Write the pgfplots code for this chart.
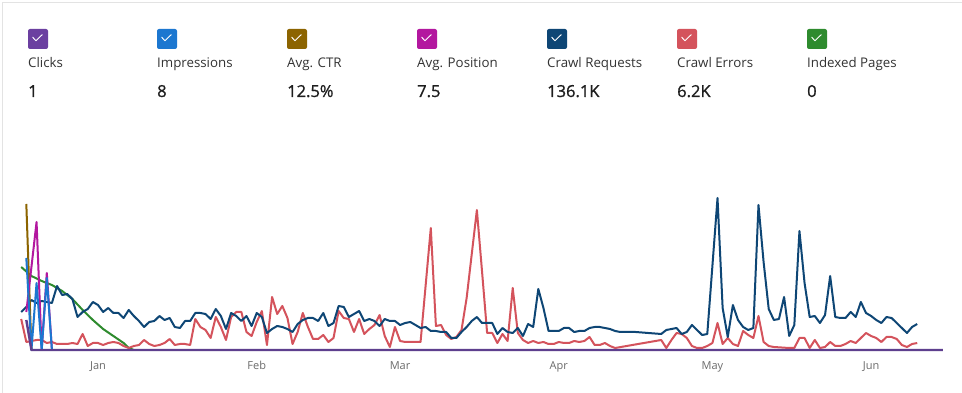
\documentclass[border=0pt]{standalone}
\usepackage{pgfplots}
\pgfplotsset{compat=1.18}
\usepackage{fontspec}
\setmainfont{Open Sans}
\newfontfamily\valfont{Open Sans}[FakeBold=1.0]
\definecolor{cClicks}{HTML}{6B3FA0}
\definecolor{cBase}{HTML}{5E3F8E}
\definecolor{cImpr}{HTML}{1C77D0}
\definecolor{cCTR}{HTML}{8C6400}
\definecolor{cPos}{HTML}{B3179F}
\definecolor{cReq}{HTML}{0E4675}
\definecolor{cErr}{HTML}{D4535C}
\definecolor{cIdx}{HTML}{2E8B2E}
\definecolor{cLab}{HTML}{333333}
\definecolor{cVal}{HTML}{1E1E1E}
\definecolor{cTick}{HTML}{6B6B6B}
\definecolor{cFrame}{HTML}{E3E3E3}

\pgfplotstableread{
d h
-15 38
-14 43
-13 50
-12 47
-11 49
-10 48
-9 47
-8 64
-7 55
-6 56
-5 51
-4 33
-3 38
-2 41
-1 48
0 45
1 38
2 42
3 37
4 37
5 32
6 40
7 34
8 29
9 23
10 28
11 29
12 34
13 30
14 32
15 23
16 22
17 29
18 29
19 37
20 37
21 36
22 31
23 41
24 34
25 21
26 37
27 34
28 29
29 34
30 24
31 37
32 33
33 17
34 21
35 24
36 23
37 21
38 18
39 26
40 30
41 32
42 32
43 29
44 37
45 24
46 27
47 44
48 43
49 33
50 36
51 39
52 29
53 31
54 29
55 24
56 31
57 29
58 29
59 25
60 27
61 28
62 25
63 22
64 23
65 19
66 19
67 18
68 18
69 12
70 12
71 18
72 23
73 29
74 33
75 27
76 27
77 27
78 16
79 22
80 18
81 17
82 22
83 14
84 26
85 23
86 61
87 42
88 19
89 19
90 19
91 22
92 22
93 18
94 19
95 19
96 22
97 23
98 23
99 22
100 21
101 19
102 18
105 18
110 16
111 20
112 21
113 22
114 16
115 18
116 25
117 20
118 15
119 16
121 152
122 42
123 13
124 45
125 30
126 23
127 20
128 22
129 145
130 88
131 41
132 30
133 31
134 53
135 14
136 25
137 119
138 67
139 33
140 34
141 27
142 35
143 74
144 33
145 32
146 32
147 38
148 33
149 48
150 37
151 34
152 30
153 27
154 33
155 32
156 27
157 22
158 17
159 23
160 26
}\crawlreq

\pgfplotstableread{
d h
-15 31
-14 8
-13 9
-12 10
-11 10
-10 7
-9 8
-8 6
-7 6
-6 6
-5 7
-4 6
-3 16
-2 4
-1 7
0 7
1 5
2 7
3 8
4 7
5 4
6 2
7 4
8 5
9 10
10 6
11 4
12 5
13 7
14 11
15 5
16 6
17 6
18 5
19 31
20 23
21 20
22 12
23 33
24 23
25 10
26 33
27 38
28 38
29 18
30 14
31 28
32 39
33 5
34 53
35 36
36 44
37 32
38 6
39 18
40 37
41 23
42 11
43 11
44 15
45 8
46 12
47 39
48 32
49 31
50 18
51 31
52 16
53 21
54 25
55 35
56 14
57 3
58 23
59 9
60 8
61 8
62 8
63 8
64 65
65 122
66 24
67 25
68 15
69 11
70 13
71 20
72 52
73 96
74 140
75 79
76 17
77 17
78 7
79 16
80 9
81 62
82 17
83 10
84 7
85 9
86 7
87 8
88 6
89 6
90 8
91 7
92 7
93 9
94 8
95 9
96 13
97 5
98 5
99 7
100 4
101 2
110 10
111 2
112 10
113 17
114 16
115 12
116 4
117 2
118 2
119 4
120 7
121 27
122 6
123 12
124 6
125 4
126 19
127 15
128 12
129 34
130 8
131 4
132 3
135 2
136 2
137 12
138 12
139 2
140 10
141 2
142 3
143 8
144 4
145 4
146 6
147 9
148 7
149 12
150 17
151 14
152 12
153 8
154 13
155 13
156 11
157 5
158 3
159 6
160 7
}\crawlerr

\pgfplotstableread{
d h
-15 83
-13 74
-11 69
-9 65
-7 59
-5 51
-3 40
-1 30
1 21
3 14
5 7
6 2
7 0
}\indexed

\newcommand{\chk}[2]{%
  \fill[#2, rounded corners=2pt] (#1,344) rectangle ++(20,20);
  \draw[white, line width=0.9pt, line cap=round, line join=round]
    (#1+4.7,364-8.3) -- (#1+8,364-11.7) -- (#1+14.2,364-5.7);
}
\newcommand{\metric}[4]{%
  \chk{#1}{#2}
  \node[anchor=base west, inner sep=0pt, text=cLab, font=\fontsize{13.3}{16}\selectfont] at (#1,325) {#3};
  \node[anchor=base west, inner sep=0pt, text=cVal, font=\valfont\fontsize{16.5}{20}\selectfont] at (#1,296) {#4};
}

\begin{document}
\begin{tikzpicture}[x=1pt,y=1pt]
\path[use as bounding box] (0,0) rectangle (962,393);
\fill[white] (0,0) rectangle (962,393);
\draw[cFrame, line width=1pt] (2,0) -- (2,390) -- (962,390);

\begin{axis}[
  at={(0pt,38pt)}, anchor=south west,
  scale only axis, width=962pt, height=195pt,
  xmin=-19.140625, xmax=168.75, ymin=-5, ymax=190,
  axis line style={draw=none},
  major tick length=0pt,
  ytick=\empty,
  xtick={0,31,59,90,120,151},
  xticklabels={Jan,Feb,Mar,Apr,May,Jun},
  xticklabel style={anchor=base, yshift=-14.5pt, text=cTick, font=\fontsize{11}{13}\selectfont},
  clip=false,
  every axis plot/.append style={line width=2pt, line join=round, no markers},
]
\addplot[cIdx] table[x=d, y=h] {\indexed};
\addplot[cErr] table[x=d, y=h] {\crawlerr};
\addplot[cReq] table[x=d, y=h] {\crawlreq};
\addplot[cCTR] coordinates {(-14,146) (-13,0)};
\addplot[cPos] coordinates {(-14,38) (-13,83) (-12,128) (-11,0) (-10,77) (-9,0)};
\addplot[cImpr] coordinates {(-14,92) (-13,0) (-12,67) (-11,0) (-10,72) (-9,0)};
\addplot[cBase, line width=2.4pt] coordinates {(-14,30) (-13,0) (0,0) (31,0) (59,0) (90,0) (120,0) (151,0) (165,0)};
\end{axis}

\metric{28}{cClicks}{Clicks}{1}
\metric{157}{cImpr}{Impressions}{8}
\metric{287}{cCTR}{Avg. CTR}{12.5\%}
\metric{417}{cPos}{Avg. Position}{7.5}
\metric{547}{cReq}{Crawl Requests}{136.1K}
\metric{677}{cErr}{Crawl Errors}{6.2K}
\metric{807}{cIdx}{Indexed Pages}{0}
\end{tikzpicture}
\end{document}
